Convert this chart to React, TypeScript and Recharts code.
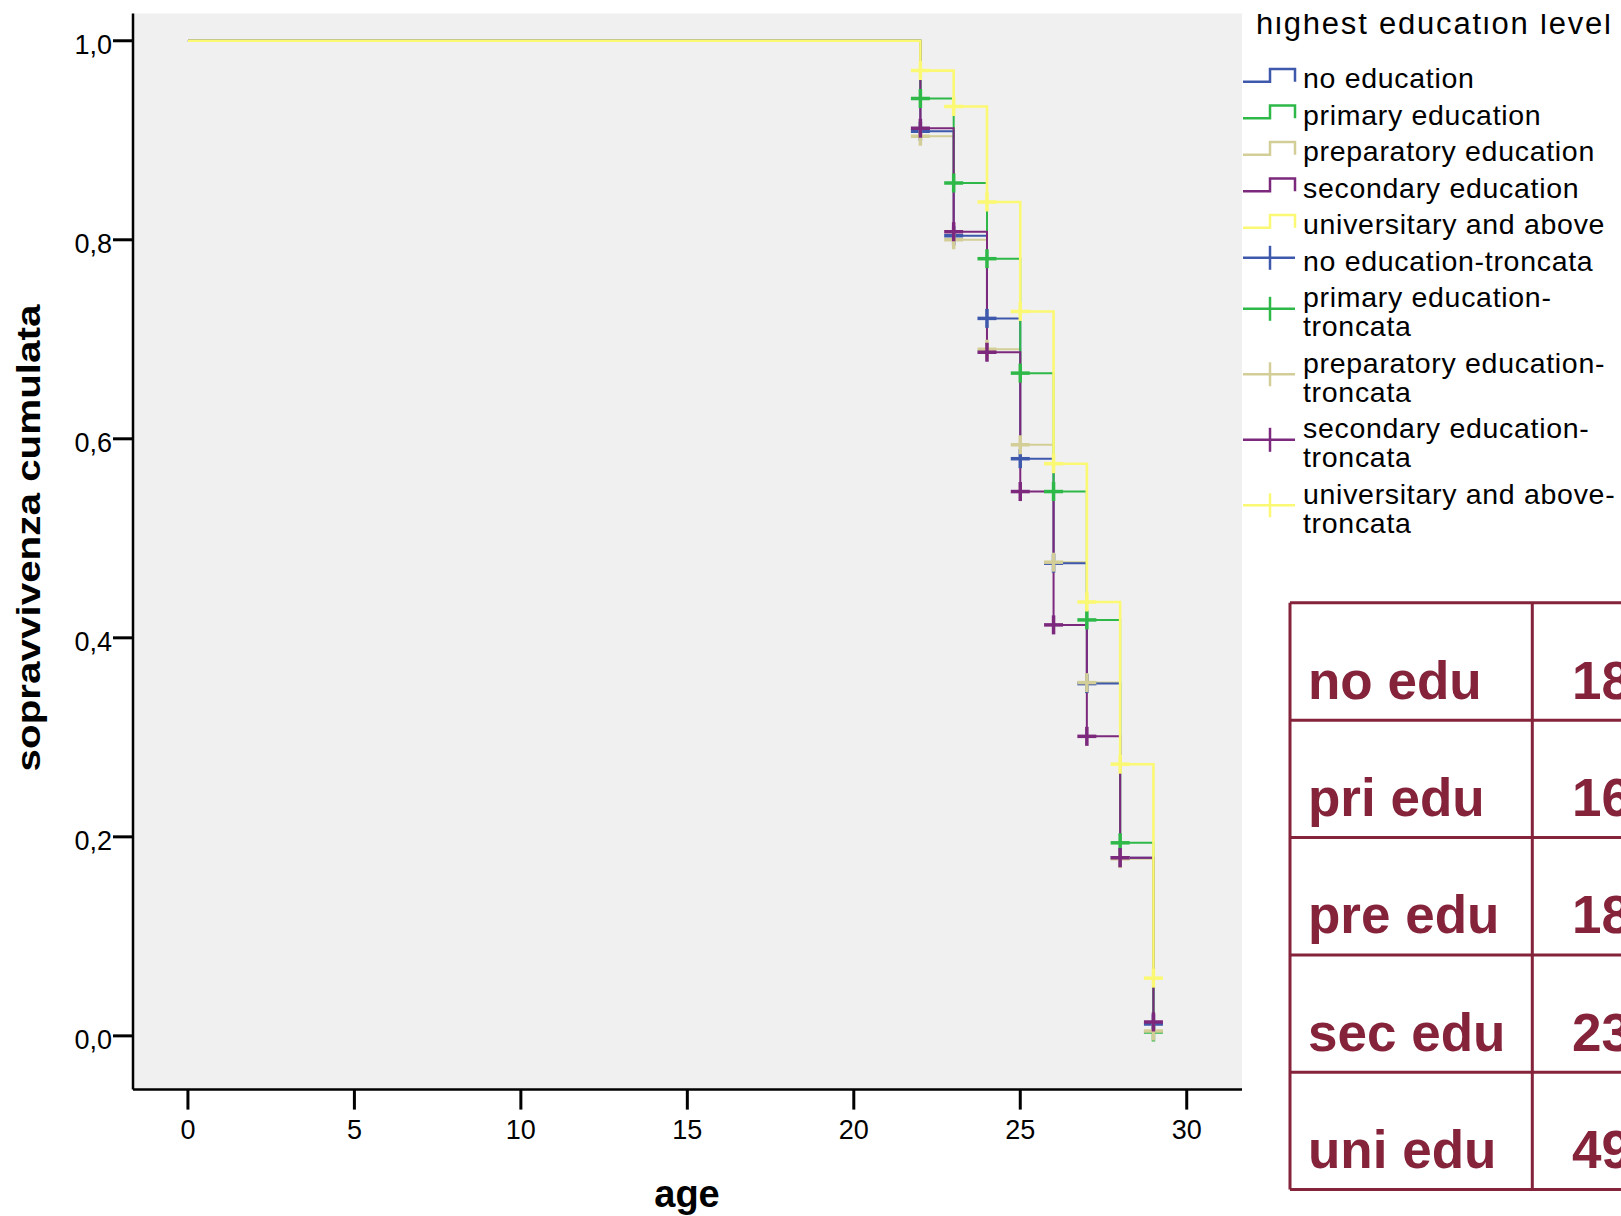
import React from "react";
import { LineChart, Line, XAxis, YAxis, CartesianGrid } from "recharts";

const ages = [0, 22, 23, 24, 25, 26, 27, 28, 29];
const noEdu = [1, 0.909, 0.804, 0.721, 0.58, 0.475, 0.354, 0.179, 0.012];
const priEdu = [1, 0.942, 0.857, 0.781, 0.666, 0.547, 0.418, 0.194, 0.004];
const preEdu = [1, 0.904, 0.8, 0.69, 0.594, 0.476, 0.355, 0.178, 0.005];
const secEdu = [1, 0.912, 0.808, 0.687, 0.547, 0.413, 0.301, 0.179, 0.014];
const uniEdu = [1, 0.97, 0.934, 0.838, 0.728, 0.575, 0.436, 0.273, 0.058];

const xTicks = [0, 5, 10, 15, 20, 25, 30];
const yTicks = [0, 0.2, 0.4, 0.6, 0.8, 1];

const legendTitle = "highest education level";
const legendLabels = [
  ["no education"],
  ["primary education"],
  ["preparatory education"],
  ["secondary education"],
  ["universitary and above"],
  ["no education-troncata"],
  ["primary education-", "troncata"],
  ["preparatory education-", "troncata"],
  ["secondary education-", "troncata"],
  ["universitary and above-", "troncata"],
];

const tableLabels = ["no edu", "pri edu", "pre edu", "sec edu", "uni edu"];
const tableValues = ["18", "16", "18", "23", "49"];

const BLUE = "#3e58ac";
const GREEN = "#2eb848";
const TAN = "#d3ce97";
const PURPLE = "#7c287d";
const YELLOW = "#fbf873";
const TABLE_RED = "#84233a";
const FONT = "'Liberation Sans', Arial, sans-serif";

const data = ages.map((age, i) => ({
  age,
  no: noEdu[i],
  pri: priEdu[i],
  pre: preEdu[i],
  sec: secEdu[i],
  uni: uniEdu[i],
}));

const series = [
  { key: "no", color: BLUE },
  { key: "pri", color: GREEN },
  { key: "pre", color: TAN },
  { key: "sec", color: PURPLE },
  { key: "uni", color: YELLOW },
];

// draw order of steps and of the censor crosses
const lineOrder = ["pre", "no", "pri", "sec", "uni"];
const crossOrder = ["pri", "no", "pre", "sec", "uni"];

const colorOf = (k: string) => series.find((s) => s.key === k)!.color;

const makeCross = (color: string) => (props: any) => {
  const { cx, cy, index } = props;
  if (index === 0 || cx == null || cy == null) return <g key={`c-${index}`} />;
  const h = 9.5;
  return (
    <g key={`c-${index}`}>
      <line x1={cx - h} x2={cx + h} y1={cy} y2={cy} stroke={color} strokeWidth={3.5} />
      <line x1={cx} x2={cx} y1={cy - h} y2={cy + h} stroke={color} strokeWidth={3.5} />
    </g>
  );
};

const fmt = (v: number) => v.toFixed(1).replace(".", ",");

function Legend() {
  const legendColors = [BLUE, GREEN, TAN, PURPLE, YELLOW, BLUE, GREEN, TAN, PURPLE, YELLOW];
  let c = 75.3;
  const rows: any[] = [];
  legendLabels.forEach((lines, i) => {
    if (i > 0) {
      const prev = legendLabels[i - 1].length;
      c += (prev === 1 ? 18.25 : 32.75) + (lines.length === 1 ? 18.25 : 32.75);
    }
    const color = legendColors[i];
    const icon =
      i < 5 ? (
        <path
          d={`M1243,${c + 6.4} H1270 V${c - 6.3} H1295 V${c + 6.4}`}
          fill="none"
          stroke={color}
          strokeWidth={2.5}
        />
      ) : (
        <g stroke={color} strokeWidth={2.5}>
          <line x1={1243} x2={1295} y1={c} y2={c} />
          <line x1={1270} x2={1270} y1={c - 12} y2={c + 12} />
        </g>
      );
    const base = lines.length === 1 ? c + 13 : c - 1.5;
    rows.push(
      <g key={i}>
        {icon}
        {lines.map((t, j) => (
          <text key={j} x={1303} y={base + j * 29} fontSize={28.5} letterSpacing={0.7} fill="#000">
            {t}
          </text>
        ))}
      </g>
    );
  });
  return <g fontFamily={FONT}>{rows}</g>;
}

function Table() {
  const top = 602.8;
  const rowH = 117.36;
  const left = 1290;
  const mid = 1532.3;
  const bottom = top + rowH * tableLabels.length;
  return (
    <g fontFamily={FONT}>
      {tableLabels.map((_, i) => (
        <line key={`h${i}`} x1={left} x2={1640} y1={top + i * rowH} y2={top + i * rowH} stroke={TABLE_RED} strokeWidth={3} />
      ))}
      <line x1={left} x2={1640} y1={bottom} y2={bottom} stroke={TABLE_RED} strokeWidth={3} />
      <line x1={left} x2={left} y1={top} y2={bottom} stroke={TABLE_RED} strokeWidth={3} />
      <line x1={mid} x2={mid} y1={top} y2={bottom} stroke={TABLE_RED} strokeWidth={3} />
      {tableLabels.map((t, i) => (
        <text key={`l${i}`} x={1308} y={top + i * rowH + 95.8} fontSize={53} fontWeight="bold" fill={TABLE_RED}>
          {t}
        </text>
      ))}
      {tableValues.map((t, i) => (
        <text key={`v${i}`} x={1572} y={top + i * rowH + 95.8} fontSize={53} fontWeight="bold" fill={TABLE_RED}>
          {t}
        </text>
      ))}
    </g>
  );
}

export default function App() {
  return (
    <div
      style={{
        position: "absolute",
        left: 0,
        top: 0,
        width: 1621,
        height: 1216,
        overflow: "hidden",
        background: "#fff",
        fontFamily: FONT,
      }}
    >
      <LineChart
        width={1250}
        height={1216}
        data={data}
        margin={{ top: 13.5, right: 8, left: 0, bottom: 0 }}
      >
        <CartesianGrid horizontal={false} vertical={false} fill="#f0f0f0" fillOpacity={1} stroke="none" />
        <XAxis
          dataKey="age"
          type="number"
          domain={[-1.65, 31.66]}
          ticks={xTicks}
          allowDataOverflow
          height={126.4}
          axisLine={{ stroke: "#000", strokeWidth: 2.5 }}
          tickLine={{ stroke: "#000", strokeWidth: 3 }}
          tickSize={20}
          tickMargin={10}
          tick={{ fill: "#000", fontSize: 27, fontFamily: FONT }}
        />
        <YAxis
          type="number"
          domain={[-0.054, 1.0274]}
          ticks={yTicks}
          allowDataOverflow
          width={133}
          tickFormatter={fmt}
          axisLine={{ stroke: "#000", strokeWidth: 2.5 }}
          tickLine={{ stroke: "#000", strokeWidth: 3 }}
          tickSize={20}
          tickMargin={1}
          tick={{ fill: "#000", fontSize: 27, fontFamily: FONT, dy: 4 }}
        />
        <YAxis
          yAxisId="r"
          orientation="right"
          width={0}
          tick={false}
          tickLine={false}
          axisLine={{ stroke: "#000", strokeWidth: 2.5 }}
        />
        {lineOrder.map((k) => (
          <Line
            key={`line-${k}`}
            type="stepAfter"
            dataKey={k}
            stroke={colorOf(k)}
            strokeWidth={k === "uni" ? 2.6 : 2}
            dot={false}
            activeDot={false}
            isAnimationActive={false}
          />
        ))}
        {crossOrder.map((k) => (
          <Line
            key={`cross-${k}`}
            type="stepAfter"
            dataKey={k}
            stroke="none"
            dot={makeCross(colorOf(k))}
            activeDot={false}
            legendType="none"
            isAnimationActive={false}
          />
        ))}
      </LineChart>
      <svg
        width={1621}
        height={1216}
        style={{ position: "absolute", left: 0, top: 0, pointerEvents: "none" }}
      >
        <defs>
          <clipPath id="titleClip">
            <rect x={1244} y={14} width={400} height={100} />
          </clipPath>
        </defs>
        <text
          x={1256}
          y={33.5}
          fontFamily={FONT}
          fontSize={31}
          letterSpacing={1.8}
          fill="#000"
          clipPath="url(#titleClip)"
        >
          {legendTitle}
        </text>
        <Legend />
        <Table />
        <text
          transform="translate(40,538) rotate(-90) scale(1.188,1)"
          textAnchor="middle"
          fontFamily={FONT}
          fontSize={34}
          fontWeight="bold"
          fill="#000"
        >
          sopravvivenza cumulata
        </text>
        <text x={687} y={1207} textAnchor="middle" fontFamily={FONT} fontSize={38} fontWeight="bold" fill="#000">
          age
        </text>
      </svg>
    </div>
  );
}
